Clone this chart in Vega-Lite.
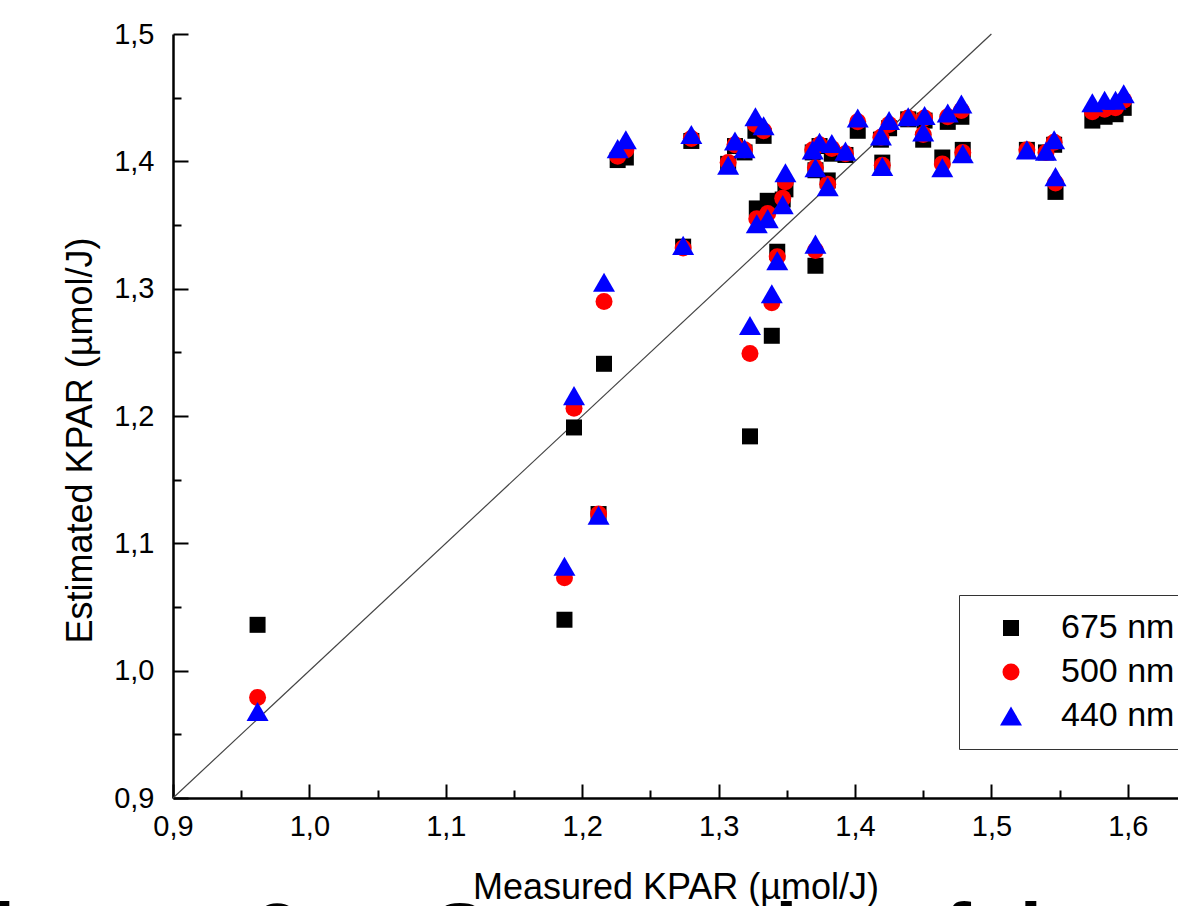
{
  "$schema": "https://vega.github.io/schema/vega-lite/v6.json",
  "width": 1005,
  "height": 764,
  "autosize": {"type": "none"},
  "padding": {"left": 173, "top": 34, "right": 0, "bottom": 108},
  "background": "white",
  "config": {"view": {"stroke": null}, "font": "Liberation Sans"},
  "title": {"text": "Figure\u00a0\u00a0\u00a03.\u00a0\u00a0\u00a0\u00a0\u00a0Scatter plot of the", "orient": "bottom", "anchor": "start", "fontSize": 80, "fontWeight": "bold", "font": "Liberation Sans", "color": "black", "dx": -118, "offset": -9, "baseline": "top"},
  "layer": [
    {
      "data": {"values": [{"m": 0.9, "e": 0.9}, {"m": 1.5, "e": 1.5}]},
      "mark": {"type": "line", "color": "#444444", "strokeWidth": 1.2},
      "encoding": {
        "x": {"field": "m", "type": "quantitative", "scale": {"domain": [0.9, 1.6368], "nice": false, "zero": false},
          "axis": {"values": [0.9, 0.95, 1.0, 1.05, 1.1, 1.15, 1.2, 1.25, 1.3, 1.35, 1.4, 1.45, 1.5, 1.55, 1.6],
            "labelExpr": "round(datum.value*100) % 10 != 0 ? '' : replace(format(datum.value, '.1f'), '.', ',')",
            "tickSize": {"condition": {"test": "round(datum.value*100) % 10 != 0", "value": -8}, "value": -14},
            "tickWidth": 2, "tickColor": "black", "domainColor": "black", "domainWidth": 2.5,
            "labelFontSize": 29, "labelColor": "black", "labelFlush": false, "labelOverlap": false, "labelPadding": 28,
            "grid": false, "title": "Measured KPAR (µmol/J)", "titleFontSize": 36, "titleFontWeight": "normal", "titleColor": "black",
            "titleY": 100, "titleBaseline": "alphabetic"}},
        "y": {"field": "e", "type": "quantitative", "scale": {"domain": [0.9, 1.5], "nice": false, "zero": false},
          "axis": {"values": [0.9, 0.95, 1.0, 1.05, 1.1, 1.15, 1.2, 1.25, 1.3, 1.35, 1.4, 1.45, 1.5],
            "labelExpr": "round(datum.value*100) % 10 != 0 ? '' : replace(format(datum.value, '.1f'), '.', ',')",
            "tickSize": {"condition": {"test": "round(datum.value*100) % 10 != 0", "value": -8}, "value": -15},
            "tickWidth": 2, "tickColor": "black", "domainColor": "black", "domainWidth": 2.5,
            "labelFontSize": 29, "labelColor": "black", "labelFlush": false, "labelOverlap": false, "labelPadding": 34,
            "grid": false, "title": "Estimated KPAR (µmol/J)", "titleFontSize": 36, "titleFontWeight": "normal", "titleColor": "black",
            "titleX": -93, "titleY": 406, "titleAngle": 270, "titleAlign": "center", "titleBaseline": "middle"}}
      }
    },
    {
      "data": {"values": [
        {"m": 0.962, "675 nm": 1.036, "500 nm": 0.979, "440 nm": 0.968},
        {"m": 1.187, "675 nm": 1.040, "500 nm": 1.073, "440 nm": 1.082},
        {"m": 1.194, "675 nm": 1.191, "500 nm": 1.206, "440 nm": 1.216},
        {"m": 1.212, "675 nm": 1.123, "500 nm": 1.123, "440 nm": 1.122},
        {"m": 1.216, "675 nm": 1.241, "500 nm": 1.290, "440 nm": 1.305},
        {"m": 1.226, "675 nm": 1.401, "500 nm": 1.404, "440 nm": 1.410},
        {"m": 1.232, "675 nm": 1.403, "500 nm": 1.409, "440 nm": 1.417},
        {"m": 1.274, "675 nm": 1.333, "500 nm": 1.332, "440 nm": 1.334},
        {"m": 1.280, "675 nm": 1.416, "500 nm": 1.418, "440 nm": 1.421},
        {"m": 1.307, "675 nm": 1.398, "500 nm": 1.399, "440 nm": 1.397},
        {"m": 1.312, "675 nm": 1.412, "500 nm": 1.413, "440 nm": 1.416},
        {"m": 1.319, "675 nm": 1.407, "500 nm": 1.409, "440 nm": 1.410},
        {"m": 1.327, "675 nm": 1.424, "500 nm": 1.429, "440 nm": 1.435},
        {"m": 1.333, "675 nm": 1.420, "500 nm": 1.424, "440 nm": 1.428},
        {"m": 1.328, "675 nm": 1.363, "500 nm": 1.355, "440 nm": 1.351},
        {"m": 1.336, "675 nm": 1.369, "500 nm": 1.359, "440 nm": 1.355},
        {"m": 1.349, "675 nm": 1.378, "500 nm": 1.384, "440 nm": 1.391},
        {"m": 1.347, "675 nm": 1.370, "500 nm": 1.371, "440 nm": 1.366},
        {"m": 1.343, "675 nm": 1.329, "500 nm": 1.325, "440 nm": 1.322},
        {"m": 1.339, "675 nm": 1.263, "500 nm": 1.289, "440 nm": 1.296},
        {"m": 1.323, "675 nm": 1.184, "500 nm": 1.249, "440 nm": 1.271},
        {"m": 1.371, "675 nm": 1.318, "500 nm": 1.330, "440 nm": 1.335},
        {"m": 1.369, "675 nm": 1.407, "500 nm": 1.409, "440 nm": 1.409},
        {"m": 1.374, "675 nm": 1.412, "500 nm": 1.413, "440 nm": 1.415},
        {"m": 1.383, "675 nm": 1.406, "500 nm": 1.410, "440 nm": 1.414},
        {"m": 1.393, "675 nm": 1.405, "500 nm": 1.406, "440 nm": 1.408},
        {"m": 1.371, "675 nm": 1.393, "500 nm": 1.395, "440 nm": 1.395},
        {"m": 1.380, "675 nm": 1.385, "500 nm": 1.382, "440 nm": 1.380},
        {"m": 1.402, "675 nm": 1.424, "500 nm": 1.431, "440 nm": 1.434},
        {"m": 1.419, "675 nm": 1.417, "500 nm": 1.419, "440 nm": 1.420},
        {"m": 1.425, "675 nm": 1.426, "500 nm": 1.429, "440 nm": 1.432},
        {"m": 1.420, "675 nm": 1.399, "500 nm": 1.397, "440 nm": 1.396},
        {"m": 1.439, "675 nm": 1.433, "500 nm": 1.434, "440 nm": 1.435},
        {"m": 1.451, "675 nm": 1.432, "500 nm": 1.434, "440 nm": 1.436},
        {"m": 1.450, "675 nm": 1.417, "500 nm": 1.421, "440 nm": 1.423},
        {"m": 1.468, "675 nm": 1.431, "500 nm": 1.435, "440 nm": 1.438},
        {"m": 1.478, "675 nm": 1.435, "500 nm": 1.440, "440 nm": 1.445},
        {"m": 1.464, "675 nm": 1.403, "500 nm": 1.398, "440 nm": 1.395},
        {"m": 1.479, "675 nm": 1.409, "500 nm": 1.407, "440 nm": 1.406},
        {"m": 1.526, "675 nm": 1.409, "500 nm": 1.409, "440 nm": 1.409},
        {"m": 1.540, "675 nm": 1.407, "500 nm": 1.407, "440 nm": 1.408},
        {"m": 1.546, "675 nm": 1.413, "500 nm": 1.415, "440 nm": 1.417},
        {"m": 1.547, "675 nm": 1.376, "500 nm": 1.383, "440 nm": 1.388},
        {"m": 1.574, "675 nm": 1.432, "500 nm": 1.439, "440 nm": 1.446},
        {"m": 1.583, "675 nm": 1.435, "500 nm": 1.441, "440 nm": 1.448},
        {"m": 1.591, "675 nm": 1.437, "500 nm": 1.442, "440 nm": 1.448},
        {"m": 1.597, "675 nm": 1.442, "500 nm": 1.448, "440 nm": 1.453}
      ]},
      "transform": [{"fold": ["675 nm", "500 nm", "440 nm"], "as": ["band", "est"]}],
      "mark": {"type": "point", "filled": true, "opacity": 1, "strokeWidth": 0},
      "encoding": {
        "x": {"field": "m", "type": "quantitative"},
        "y": {"field": "est", "type": "quantitative"},
        "color": {"field": "band", "type": "nominal",
          "scale": {"domain": ["675 nm", "500 nm", "440 nm"], "range": ["#000000", "#ff0000", "#0000ff"]},
          "legend": {"title": null, "orient": "none", "legendX": 786, "legendY": 561, "padding": 16,
            "labelFontSize": 34, "labelColor": "black", "labelFont": "Liberation Sans", "symbolOffset": 19, "labelOffset": 33, "rowPadding": 10,
            "strokeColor": "#333333", "fillColor": "white",
            "encode": {"legend": {"update": {"strokeWidth": {"value": 2}}}}}},
        "shape": {"field": "band", "type": "nominal",
          "scale": {"domain": ["675 nm", "500 nm", "440 nm"], "range": ["square", "circle", "triangle-up"]}},
        "size": {"field": "band", "type": "ordinal",
          "scale": {"type": "ordinal", "domain": ["675 nm", "500 nm", "440 nm"], "range": [256, 289, 484]}},
        "order": {"field": "band", "type": "nominal", "sort": "descending"}
      }
    }
  ]
}
